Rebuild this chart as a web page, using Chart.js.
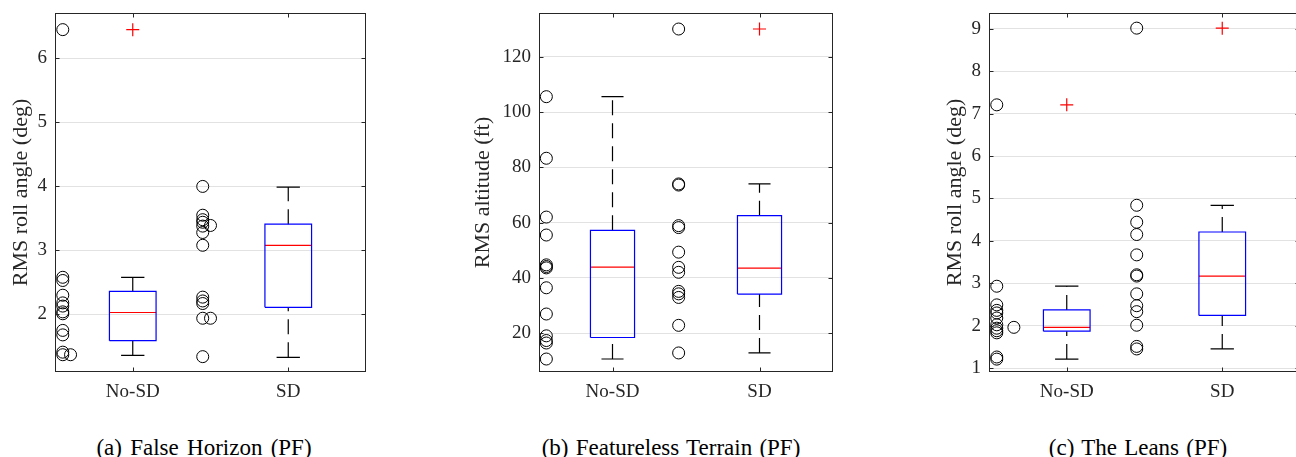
<!DOCTYPE html>
<html>
<head>
<meta charset="utf-8">
<script src="https://cdn.jsdelivr.net/npm/chart.js@4.4.0/dist/chart.umd.min.js"></script>
<style>
  body { margin: 0; background: #fff; width: 1296px; height: 457px; overflow: hidden; position: relative; font-family: 'Liberation Serif', serif; }
  .panel { position: absolute; top: 0; width: 467px; height: 410px; }
  .caption { position: absolute; top: 435px; font-size: 23px; line-height: 26px; color: #000; white-space: nowrap; transform: translateX(-50%); }
</style>
</head>
<body>
<div class="panel" style="left:0px"><canvas id="chartA" width="467" height="410"></canvas></div>
<div class="panel" style="left:467px"><canvas id="chartB" width="467" height="410"></canvas></div>
<div class="panel" style="left:934px"><canvas id="chartC" width="467" height="410"></canvas></div>
<div class="caption" style="left:204px; word-spacing:2.5px">(a) False Horizon (PF)</div>
<div class="caption" style="left:671px; word-spacing:1.5px">(b) Featureless Terrain (PF)</div>
<div class="caption" style="left:1138px; word-spacing:1.5px">(c) The Leans (PF)</div>
<script>
const categories = ['No-SD', 'SD'];

// (a) False Horizon - RMS roll angle (deg)
const horizonNoSd  = [6.45, 2.58, 2.53, 2.30, 2.18, 2.13, 2.04, 2.01, 1.75, 1.68, 1.41, 1.37, 1.37];
const horizonNoSdX = [0.55, 0.55, 0.55, 0.55, 0.55, 0.55, 0.55, 0.55, 0.55, 0.55, 0.55, 0.55, 0.60];
const horizonSd    = [4.00, 3.55, 3.48, 3.44, 3.39, 3.38, 3.28, 3.08, 2.27, 2.21, 2.17, 1.94, 1.94, 1.34];
const horizonSdX   = [1.45, 1.45, 1.45, 1.45, 1.50, 1.45, 1.45, 1.45, 1.45, 1.45, 1.45, 1.45, 1.50, 1.45];
const horizonLow   = [1.36, 1.33];
const horizonQ1    = [1.59, 2.11];
const horizonMed   = [2.03, 3.08];
const horizonQ3    = [2.36, 3.41];
const horizonHigh  = [2.58, 3.99];
const horizonOutNoSd = [6.45];
const horizonOutSd   = [];
const horizonYTicks  = [2, 3, 4, 5, 6];
const horizonYRange  = [1.1, 6.71];

// (b) Featureless Terrain - RMS altitude (ft)
const terrainNoSd  = [105.6, 83.3, 62.0, 55.5, 44.7, 44.1, 43.6, 36.4, 26.9, 19.0, 17.3, 16.4, 10.6];
const terrainNoSdX = [0.55, 0.55, 0.55, 0.55, 0.55, 0.55, 0.55, 0.55, 0.55, 0.55, 0.55, 0.55, 0.55];
const terrainSd    = [130.1, 74.0, 73.6, 58.9, 58.2, 49.3, 43.8, 42.0, 35.1, 34.2, 32.9, 22.8, 12.8];
const terrainSdX   = [1.45, 1.45, 1.45, 1.45, 1.45, 1.45, 1.45, 1.45, 1.45, 1.45, 1.45, 1.45, 1.45];
const terrainLow   = [10.6, 12.8];
const terrainQ1    = [18.4, 34.1];
const terrainMed   = [43.9, 43.5];
const terrainQ3    = [57.2, 62.5];
const terrainHigh  = [105.6, 74.0];
const terrainOutNoSd = [];
const terrainOutSd   = [130.1];
const terrainYTicks  = [20, 40, 60, 80, 100, 120];
const terrainYRange  = [5.9, 135.9];

// (c) The Leans - RMS roll angle (deg)
const leansNoSd  = [7.21, 2.93, 2.49, 2.36, 2.30, 2.18, 2.02, 1.96, 1.94, 1.88, 1.83, 1.26, 1.21];
const leansNoSdX = [0.55, 0.55, 0.55, 0.55, 0.55, 0.55, 0.55, 0.66, 0.55, 0.55, 0.55, 0.55, 0.55];
const leansSd    = [9.02, 4.84, 4.44, 4.15, 3.67, 3.20, 3.17, 2.75, 2.47, 2.33, 2.01, 1.51, 1.45];
const leansSdX   = [1.45, 1.45, 1.45, 1.45, 1.45, 1.45, 1.45, 1.45, 1.45, 1.45, 1.45, 1.45, 1.45];
const leansLow   = [1.21, 1.45];
const leansQ1    = [1.87, 2.24];
const leansMed   = [1.96, 3.17];
const leansQ3    = [2.37, 4.21];
const leansHigh  = [2.93, 4.84];
const leansOutNoSd = [7.21];
const leansOutSd   = [9.02];
const leansYTicks  = [1, 2, 3, 4, 5, 6, 7, 8, 9];
const leansYRange  = [0.906, 9.377];

const BOX_HALF = 0.15;
const CAP_HALF = 0.075;
const FONT = "'Liberation Serif', 'Times New Roman', serif";
const AXIS_COLOR = '#262626';

// draws the matlab style frame with inward ticks on all four sides
const frameTicks = {
  id: 'frameTicks',
  afterDraw(chart) {
    const { ctx, chartArea: a, scales: { x, y } } = chart;
    const L = Math.round(a.left) + 0.5, R = Math.round(a.right) - 0.5;
    const T = Math.round(a.top) + 0.5, B = Math.round(a.bottom) - 0.5;
    ctx.save();
    ctx.strokeStyle = AXIS_COLOR;
    ctx.lineWidth = 1;
    ctx.beginPath();
    x.ticks.forEach(t => {
      const px = Math.round(x.getPixelForValue(t.value)) + 0.5;
      ctx.moveTo(px, B); ctx.lineTo(px, B - 4);
      ctx.moveTo(px, T); ctx.lineTo(px, T + 4);
    });
    y.ticks.forEach(t => {
      const py = Math.round(y.getPixelForValue(t.value)) + 0.5;
      ctx.moveTo(L, py); ctx.lineTo(L + 4, py);
      ctx.moveTo(R, py); ctx.lineTo(R - 4, py);
    });
    ctx.stroke();
    ctx.strokeRect(L, T, R - L, B - T);
    ctx.restore();
  }
};

function pts(xs, ys) {
  return ys.map((v, i) => ({ x: xs[i], y: v }));
}

function lineSet(data, color, dash) {
  return {
    type: 'line', data: data, borderColor: color, borderWidth: 1.2,
    borderDash: dash || [], pointRadius: 0, fill: false, tension: 0, spanGaps: false
  };
}

function buildDatasets(g) {
  const sets = [];
  [1, 2].forEach((pos, i) => {
    // box
    sets.push(lineSet([
      { x: pos - BOX_HALF, y: g.q1[i] }, { x: pos + BOX_HALF, y: g.q1[i] },
      { x: pos + BOX_HALF, y: g.q3[i] }, { x: pos - BOX_HALF, y: g.q3[i] },
      { x: pos - BOX_HALF, y: g.q1[i] }
    ], '#0000ff'));
    // median
    sets.push(lineSet([{ x: pos - BOX_HALF, y: g.med[i] }, { x: pos + BOX_HALF, y: g.med[i] }], '#ff0000'));
    // whiskers
    sets.push(lineSet([{ x: pos, y: g.q3[i] }, { x: pos, y: g.high[i] }], '#000000', [15, 8]));
    sets.push(lineSet([{ x: pos, y: g.low[i] }, { x: pos, y: g.q1[i] }], '#000000', [15, 8]));
    // caps
    sets.push(lineSet([
      { x: pos - CAP_HALF, y: g.high[i] }, { x: pos + CAP_HALF, y: g.high[i] },
      { x: pos, y: null },
      { x: pos - CAP_HALF, y: g.low[i] }, { x: pos + CAP_HALF, y: g.low[i] }
    ], '#000000'));
  });
  // outliers
  const outs = g.outNoSd.map(v => ({ x: 1, y: v })).concat(g.outSd.map(v => ({ x: 2, y: v })));
  sets.push({
    type: 'line', data: outs, showLine: false, pointStyle: 'cross', pointRadius: 6.5,
    pointBorderColor: '#ff0000', pointBorderWidth: 1.2, pointBackgroundColor: 'rgba(0,0,0,0)'
  });
  // raw observations
  sets.push({
    type: 'line', data: pts(g.noSdX, g.noSd).concat(pts(g.sdX, g.sd)), showLine: false,
    pointStyle: 'circle', pointRadius: 6, pointBorderColor: '#000000', pointBorderWidth: 1,
    pointBackgroundColor: 'rgba(0,0,0,0)'
  });
  return sets;
}

function makePanel(id, g, leftPx, titlePad) {
  new Chart(document.getElementById(id), {
    type: 'line',
    data: { datasets: buildDatasets(g) },
    options: {
      responsive: false,
      animation: false,
      events: [],
      layout: { padding: { top: 13, right: 101, bottom: 0, left: 0 } },
      plugins: { legend: { display: false }, tooltip: { enabled: false } },
      scales: {
        x: {
          type: 'linear', min: 0.5, max: 2.5,
          afterFit: s => { s.height = 38; s.paddingLeft = 0; s.paddingRight = 0; },
          afterBuildTicks: s => { s.ticks = [1, 2].map(v => ({ value: v })); },
          grid: { display: false, drawTicks: false },
          border: { display: false },
          ticks: {
            callback: v => categories[v - 1], padding: 9, maxRotation: 0, autoSkip: false,
            color: AXIS_COLOR, font: { family: FONT, size: 19 }
          }
        },
        y: {
          type: 'linear', min: g.yRange[0], max: g.yRange[1],
          afterFit: s => { s.width = leftPx; s.paddingTop = 0; s.paddingBottom = 0; },
          afterBuildTicks: s => { s.ticks = g.yTicks.map(v => ({ value: v })); },
          grid: { color: '#e2e2e2', lineWidth: 1, drawTicks: false },
          border: { display: false },
          ticks: { padding: 8, color: AXIS_COLOR, font: { family: FONT, size: 19 } },
          title: {
            display: true, text: g.yLabel, color: AXIS_COLOR,
            font: { family: FONT, size: 22 }, padding: { top: titlePad, bottom: 0 }
          }
        }
      }
    },
    plugins: [frameTicks]
  });
}

makePanel('chartA', {
  noSd: horizonNoSd, noSdX: horizonNoSdX, sd: horizonSd, sdX: horizonSdX,
  low: horizonLow, q1: horizonQ1, med: horizonMed, q3: horizonQ3, high: horizonHigh,
  outNoSd: horizonOutNoSd, outSd: horizonOutSd,
  yTicks: horizonYTicks, yRange: horizonYRange, yLabel: 'RMS roll angle (deg)'
}, 55, 8);

makePanel('chartB', {
  noSd: terrainNoSd, noSdX: terrainNoSdX, sd: terrainSd, sdX: terrainSdX,
  low: terrainLow, q1: terrainQ1, med: terrainMed, q3: terrainQ3, high: terrainHigh,
  outNoSd: terrainOutNoSd, outSd: terrainOutSd,
  yTicks: terrainYTicks, yRange: terrainYRange, yLabel: 'RMS altitude (ft)'
}, 72, 3);

makePanel('chartC', {
  noSd: leansNoSd, noSdX: leansNoSdX, sd: leansSd, sdX: leansSdX,
  low: leansLow, q1: leansQ1, med: leansMed, q3: leansQ3, high: leansHigh,
  outNoSd: leansOutNoSd, outSd: leansOutSd,
  yTicks: leansYTicks, yRange: leansYRange, yLabel: 'RMS roll angle (deg)'
}, 55, 8);
</script>
</body>
</html>
